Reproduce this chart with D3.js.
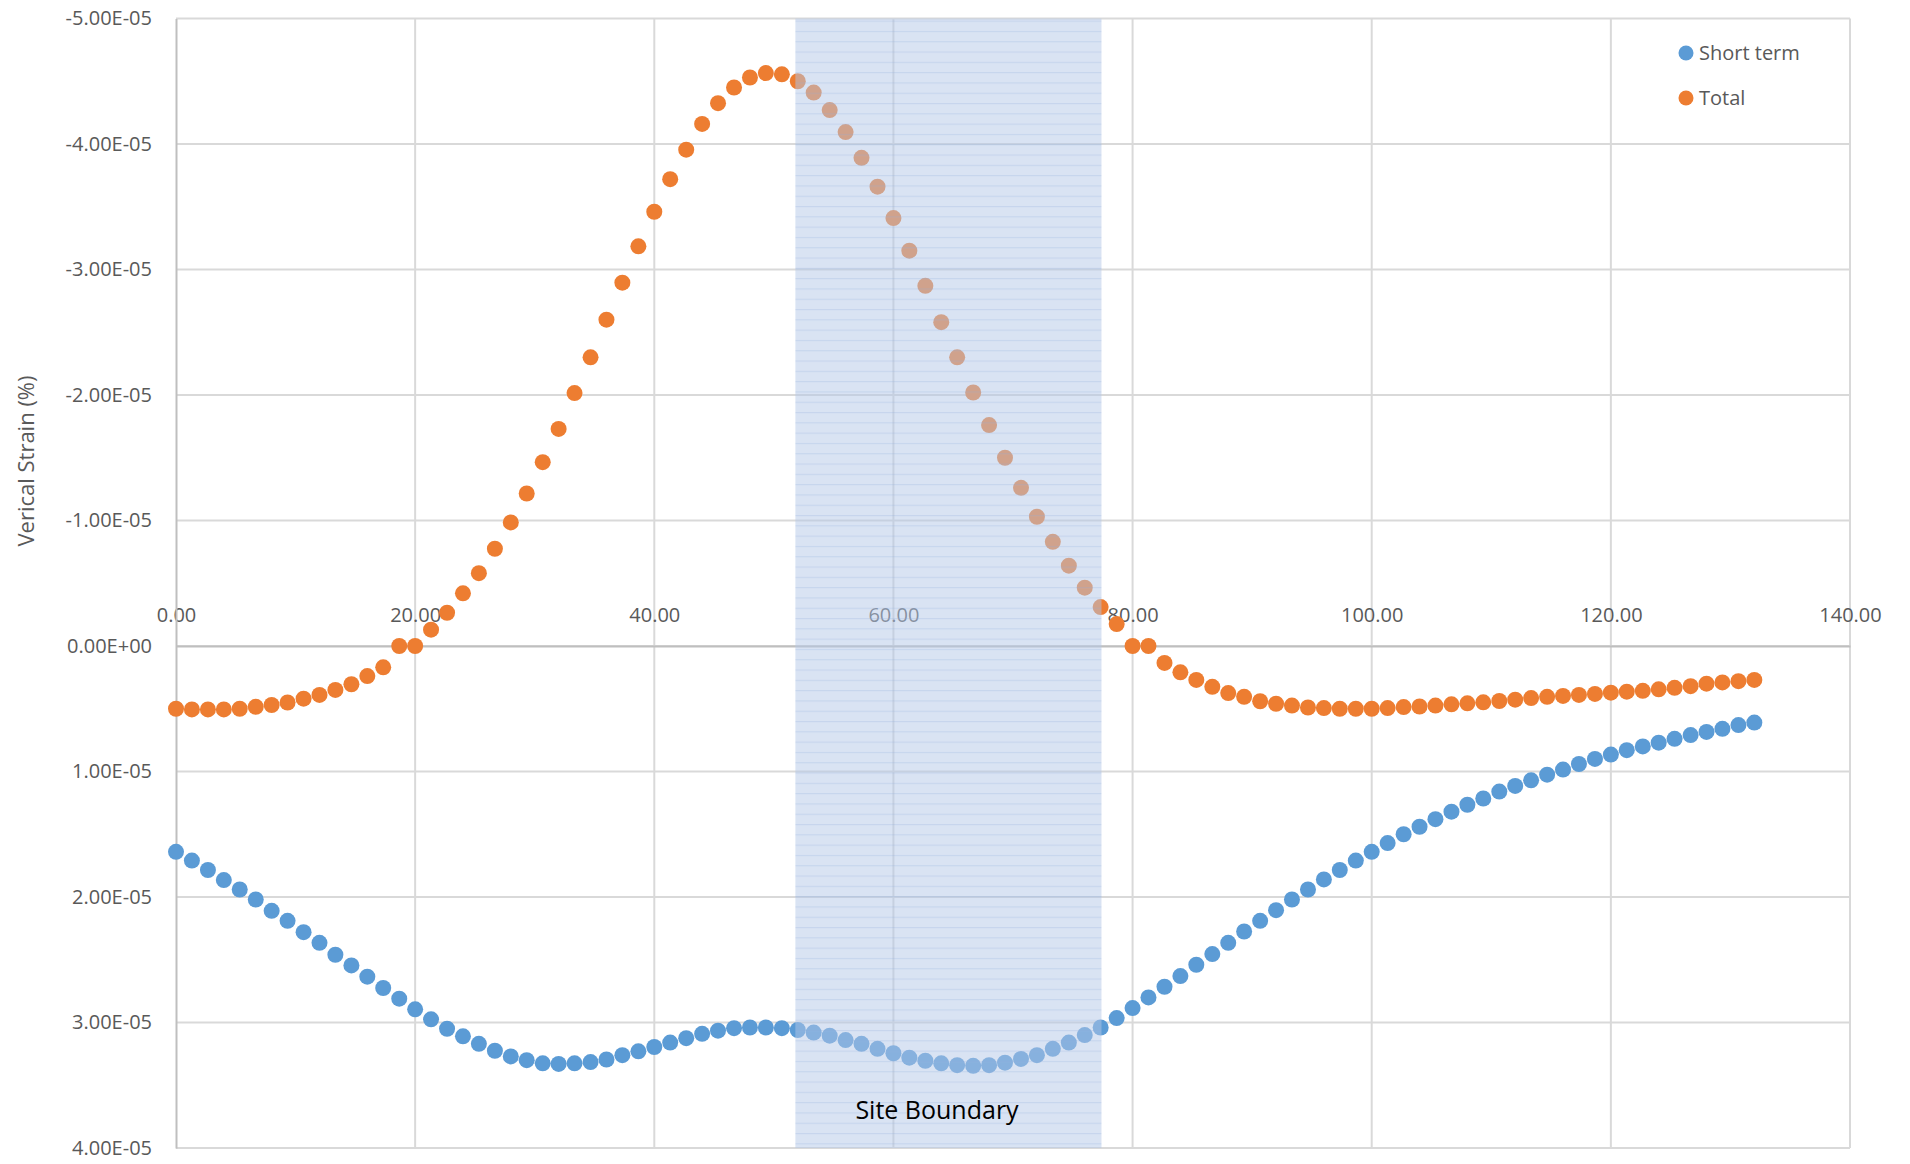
<!DOCTYPE html>
<html>
<head>
<meta charset="utf-8">
<script src="https://cdn.jsdelivr.net/npm/d3@7"></script>
<style>
  body { margin: 0; background: #fff; }
  text { font-family: "Open Sans", sans-serif; }
</style>
</head>
<body>
<svg></svg>
<script>
var width = 1910;
var height = 1164;

// distance along section (m)
var distance = [
  0.00, 1.33, 2.67, 4.00, 5.33, 6.67, 8.00, 9.33, 10.67, 12.00,
  13.33, 14.67, 16.00, 17.33, 18.67, 20.00, 21.33, 22.67, 24.00, 25.33,
  26.67, 28.00, 29.33, 30.67, 32.00, 33.33, 34.67, 36.00, 37.33, 38.67,
  40.00, 41.33, 42.67, 44.00, 45.33, 46.67, 48.00, 49.33, 50.67, 52.00,
  53.33, 54.67, 56.00, 57.33, 58.67, 60.00, 61.33, 62.67, 64.00, 65.33,
  66.67, 68.00, 69.33, 70.67, 72.00, 73.33, 74.67, 76.00, 77.33, 78.67,
  80.00, 81.33, 82.67, 84.00, 85.33, 86.67, 88.00, 89.33, 90.67, 92.00,
  93.33, 94.67, 96.00, 97.33, 98.67, 100.00, 101.33, 102.67, 104.00, 105.33,
  106.67, 108.00, 109.33, 110.67, 112.00, 113.33, 114.67, 116.00, 117.33, 118.67,
  120.00, 121.33, 122.67, 124.00, 125.33, 126.67, 128.00, 129.33, 130.67, 132.00
];

// vertical strain, in units of 1E-05
var shortTerm = [
  1.64, 1.71, 1.785, 1.865, 1.94, 2.02, 2.11, 2.19, 2.28, 2.365,
  2.46, 2.545, 2.635, 2.725, 2.81, 2.895, 2.975, 3.05, 3.11, 3.17,
  3.225, 3.27, 3.30, 3.325, 3.33, 3.325, 3.315, 3.295, 3.26, 3.23,
  3.195, 3.16, 3.125, 3.09, 3.065, 3.045, 3.04, 3.04, 3.045, 3.06,
  3.08, 3.105, 3.14, 3.17, 3.21, 3.245, 3.28, 3.305, 3.325, 3.34,
  3.345, 3.34, 3.32, 3.29, 3.26, 3.21, 3.16, 3.10, 3.04, 2.965,
  2.885, 2.80, 2.715, 2.63, 2.54, 2.455, 2.365, 2.275, 2.19, 2.105,
  2.02, 1.94, 1.86, 1.785, 1.71, 1.64, 1.57, 1.50, 1.44, 1.38,
  1.32, 1.265, 1.215, 1.16, 1.115, 1.07, 1.025, 0.985, 0.94, 0.90,
  0.865, 0.83, 0.80, 0.77, 0.74, 0.71, 0.685, 0.66, 0.63, 0.61
];

var total = [
  0.50, 0.505, 0.505, 0.505, 0.50, 0.485, 0.47, 0.45, 0.42, 0.39,
  0.35, 0.305, 0.24, 0.17, 0.0, 0.0, -0.13, -0.265, -0.42, -0.58,
  -0.775, -0.985, -1.215, -1.465, -1.73, -2.015, -2.30, -2.60, -2.895, -3.185,
  -3.46, -3.72, -3.955, -4.16, -4.325, -4.45, -4.53, -4.565, -4.555, -4.50,
  -4.41, -4.27, -4.095, -3.89, -3.66, -3.41, -3.15, -2.87, -2.58, -2.30,
  -2.02, -1.76, -1.50, -1.26, -1.03, -0.83, -0.64, -0.465, -0.31, -0.175,
  0.0, 0.0, 0.135, 0.21, 0.27, 0.325, 0.375, 0.405, 0.44, 0.46,
  0.475, 0.49, 0.495, 0.50, 0.50, 0.50, 0.495, 0.487, 0.482, 0.475,
  0.465, 0.457, 0.449, 0.438, 0.428, 0.415, 0.405, 0.398, 0.39, 0.382,
  0.372, 0.364, 0.357, 0.345, 0.333, 0.32, 0.30, 0.29, 0.28, 0.27
];

var seriesNames = ["Short term", "Total"];
var seriesColors = ["#5B9BD5", "#ED7D31"];

var xTicks = [0, 20, 40, 60, 80, 100, 120, 140];
var xTickLabels = ["0.00", "20.00", "40.00", "60.00", "80.00", "100.00", "120.00", "140.00"];
var yTicks = [-5, -4, -3, -2, -1, 0, 1, 2, 3, 4];
var yTickLabels = ["-5.00E-05", "-4.00E-05", "-3.00E-05", "-2.00E-05", "-1.00E-05",
                   "0.00E+00", "1.00E-05", "2.00E-05", "3.00E-05", "4.00E-05"];

// site boundary extent along section
var siteBoundary = [51.8, 77.4];

var plot = { left: 176, right: 1850, top: 18.5, bottom: 1148 };

var svg = d3.select("svg")
            .attr("width", width)
            .attr("height", height);

var xscale = d3.scaleLinear()
               .domain([0, 140])
               .range([plot.left, plot.right]);

var yscale = d3.scaleLinear()
               .domain([-5, 4])
               .range([plot.top, plot.bottom]);

// gridlines
svg.append("g")
    .selectAll("line")
    .data(yTicks)
    .enter().append("line")
    .attr("x1", plot.left)
    .attr("x2", plot.right)
    .attr("y1", function(d){ return yscale(d); })
    .attr("y2", function(d){ return yscale(d); })
    .attr("stroke", "#D9D9D9")
    .attr("stroke-width", 2);

svg.append("g")
    .selectAll("line")
    .data(xTicks.slice(1))
    .enter().append("line")
    .attr("x1", function(d){ return xscale(d); })
    .attr("x2", function(d){ return xscale(d); })
    .attr("y1", plot.top)
    .attr("y2", plot.bottom)
    .attr("stroke", "#D9D9D9")
    .attr("stroke-width", 2);

// x axis sits on zero, labels above it
var xaxis = d3.axisTop(xscale)
              .tickValues(xTicks)
              .tickFormat(function(d, i){ return xTickLabels[i]; })
              .tickSize(0)
              .tickPadding(24);

var gx = svg.append("g")
    .attr("transform", "translate(0," + yscale(0) + ")")
    .call(xaxis);
gx.select(".domain").attr("stroke", "#BFBFBF").attr("stroke-width", 2);
gx.selectAll("text")
    .attr("fill", "#595959")
    .style("font-size", "20px");

var yaxis = d3.axisLeft(yscale)
              .tickValues(yTicks)
              .tickFormat(function(d, i){ return yTickLabels[i]; })
              .tickSize(0)
              .tickPadding(24);

var gy = svg.append("g")
    .attr("transform", "translate(" + plot.left + ",0)")
    .call(yaxis);
gy.select(".domain").attr("stroke", "#BFBFBF").attr("stroke-width", 2);
gy.selectAll("text")
    .attr("fill", "#595959")
    .style("font-size", "20px");

svg.append("text")
    .attr("transform", "translate(26,461) rotate(-90)")
    .attr("text-anchor", "middle")
    .attr("dy", "0.35em")
    .attr("fill", "#595959")
    .style("font-size", "22px")
    .text("Verical Strain (%)");

// points
[shortTerm, total].forEach(function(values, s){
    svg.append("g")
        .selectAll("circle")
        .data(values)
        .enter().append("circle")
        .attr("cx", function(d, i){ return xscale(distance[i]); })
        .attr("cy", function(d){ return yscale(d); })
        .attr("r", 8)
        .attr("fill", seriesColors[s]);
});

// hatched site boundary overlay
var defs = svg.append("defs");
var pat = defs.append("pattern")
    .attr("id", "hatch")
    .attr("patternUnits", "userSpaceOnUse")
    .attr("width", 8)
    .attr("height", 10.3);
pat.append("rect")
    .attr("width", 8)
    .attr("height", 10.3)
    .attr("fill", "rgba(180,199,231,0.5)");
pat.append("rect")
    .attr("y", 0)
    .attr("width", 8)
    .attr("height", 1.2)
    .attr("fill", "rgba(143,170,220,0.25)");

svg.append("rect")
    .attr("x", xscale(siteBoundary[0]))
    .attr("y", plot.top)
    .attr("width", xscale(siteBoundary[1]) - xscale(siteBoundary[0]))
    .attr("height", plot.bottom - plot.top)
    .attr("fill", "url(#hatch)");

svg.append("text")
    .attr("x", 937)
    .attr("y", 1119)
    .attr("text-anchor", "middle")
    .attr("fill", "#000")
    .style("font-size", "25px")
    .text("Site Boundary");

// legend
var legend = svg.append("g")
    .selectAll("g")
    .data(seriesNames)
    .enter().append("g")
    .attr("transform", function(d, i){ return "translate(1686," + (53 + i * 45) + ")"; });
legend.append("circle")
    .attr("r", 7.5)
    .attr("fill", function(d, i){ return seriesColors[i]; });
legend.append("text")
    .attr("x", 13)
    .attr("dy", "0.35em")
    .attr("fill", "#595959")
    .style("font-size", "20px")
    .text(function(d){ return d; });
</script>
</body>
</html>
